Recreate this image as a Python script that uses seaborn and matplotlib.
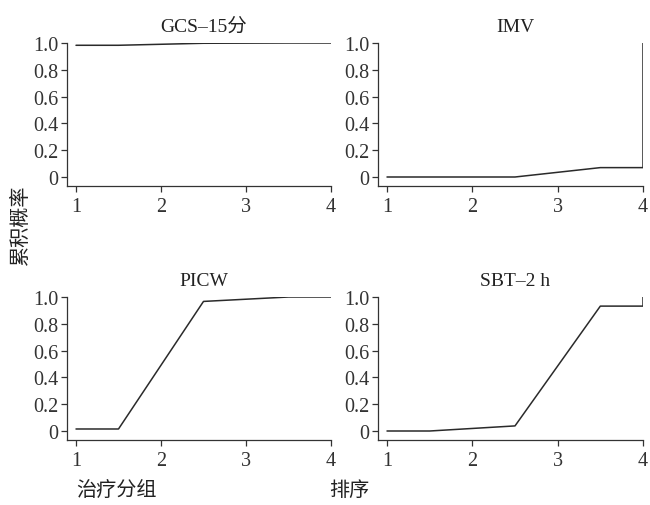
import matplotlib
matplotlib.use("Agg")
import matplotlib.pyplot as plt
import seaborn as sns
import pandas as pd

# Data
ranks = [1, 2, 3, 4]
titles = ["GCS–15分", "IMV", "PICW", "SBT–2 h"]
gcs = [0.983, 0.998, 1.0, 1.0]
imv = [0.0, 0.0, 0.07, 1.0]
picw = [0.015, 0.967, 1.0, 1.0]
sbt = [0.0, 0.038, 0.932, 1.0]
series = [gcs, imv, picw, sbt]
yticks = [0, 0.2, 0.4, 0.6, 0.8, 1.0]
ytick_labels = ["0", "0.2", "0.4", "0.6", "0.8", "1.0"]
xtick_labels = ["1", "2", "3", "4"]
ylabel = "累积概率"
xlabel_left = "治疗分组"
xlabel_right = "排序"

sns.set_theme(style="ticks")
plt.rcParams['font.family'] = ['Liberation Serif', 'Noto Sans CJK SC']
plt.rcParams['axes.edgecolor'] = '#333333'
plt.rcParams['xtick.color'] = '#333333'
plt.rcParams['ytick.color'] = '#333333'
plt.rcParams['text.color'] = '#222222'

FS = 14.5
fig = plt.figure(figsize=(6.5, 5.06), dpi=100)

W, H = 650, 506
boxes = [(67, 331, 44, 187), (378, 643, 44, 187), (67, 331, 298, 441), (378, 643, 298, 441)]

def step_path(vals):
    xs = [ranks[0]]
    ys = [vals[0]]
    for r, v in zip(ranks[:-1], vals[:-1]):
        xs.append(r + 0.5)
        ys.append(v)
    xs.append(ranks[-1]); ys.append(vals[-2])
    xs.append(ranks[-1]); ys.append(vals[-1])
    return pd.DataFrame({"x": xs, "y": ys, "order": range(len(xs))})

for (l, r, t, b), title, vals in zip(boxes, titles, series):
    ax = fig.add_axes([l / W, 1 - b / H, (r - l) / W, (b - t) / H])
    df = step_path(vals)
    sns.lineplot(data=df, x="x", y="y", sort=False, estimator=None,
                 color="#2a2a2a", linewidth=1.1, ax=ax)
    ppu = (r - l - 9) / 3.0
    ax.set_xlim(1 - 9 / ppu, 4)
    ypu = (b - t - 9) / 1.0
    ax.set_ylim(-9 / ypu, 1.0)
    ax.set_xticks(ranks)
    ax.set_xticklabels(xtick_labels, fontsize=FS)
    ax.set_yticks(yticks)
    ax.set_yticklabels(ytick_labels, fontsize=FS)
    ax.tick_params(length=4, width=0.9, pad=2)
    ax.tick_params(axis='x', pad=4)
    ax.set_xlabel("")
    ax.set_ylabel("")
    for s in ["top", "right"]:
        ax.spines[s].set_visible(False)
    for s in ["left", "bottom"]:
        ax.spines[s].set_linewidth(0.9)
    cx = ((l + 9) + r) / 2 / W
    fig.text(cx, 1 - (t - 17) / H, title, ha="center", va="center", fontsize=FS - 0.5)

fig.text(20 / W, 1 - 225 / H, ylabel, rotation=90, ha="center", va="center",
         fontsize=FS, family=['Noto Sans CJK SC'])
fig.text(76 / W, 1 - 490 / H, xlabel_left, ha="left", va="center",
         fontsize=FS, family=['Noto Sans CJK SC'])
fig.text(329 / W, 1 - 490 / H, xlabel_right, ha="left", va="center",
         fontsize=FS, family=['Noto Sans CJK SC'])

fig.savefig("out.png", dpi=100)
